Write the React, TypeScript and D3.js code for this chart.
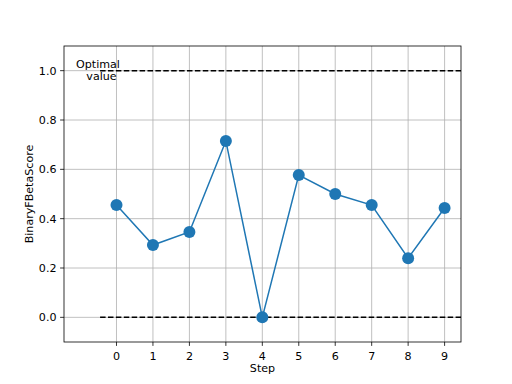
import React from "react";
import * as d3 from "d3";

const steps = [0, 1, 2, 3, 4, 5, 6, 7, 8, 9];
const scores = [0.455, 0.293, 0.346, 0.715, 0.0, 0.577, 0.5, 0.455, 0.24, 0.443];
const yTicks = [0.0, 0.2, 0.4, 0.6, 0.8, 1.0];
const refLines = [0.0, 1.0];
const annotation = ["Optimal", "value"];

export default function App() {
  const W = 512, H = 384;
  const L = 64, R = 461, T = 46, B = 342;
  const x = d3.scaleLinear().domain([-1.44, 9.45]).range([L, R]);
  const y = d3.scaleLinear().domain([-0.1, 1.1]).range([B, T]);
  const line = d3.line<number>().x((_, i) => x(steps[i])).y((d) => y(d));
  const font = "DejaVu Sans, sans-serif";
  const fs = 11.1;
  return (
    <svg width={W} height={H} style={{ position: "absolute", left: 0, top: 0 }} fontFamily={font}>
      <rect width={W} height={H} fill="#fff" />
      {/* grid */}
      {steps.map((s) => (
        <line key={"gx" + s} x1={x(s)} x2={x(s)} y1={T} y2={B} stroke="#b0b0b0" strokeWidth={0.8} />
      ))}
      {yTicks.map((t) => (
        <line key={"gy" + t} x1={L} x2={R} y1={y(t)} y2={y(t)} stroke="#b0b0b0" strokeWidth={0.8} />
      ))}
      {/* reference lines */}
      {refLines.map((r) => (
        <line key={"r" + r} x1={x(-0.45)} x2={x(9.45)} y1={y(r)} y2={y(r)} stroke="#000" strokeWidth={1.5} strokeDasharray="5.5,2.4" />
      ))}
      {/* series */}
      <path d={line(scores) || ""} fill="none" stroke="#1f77b4" strokeWidth={1.5} />
      {scores.map((v, i) => (
        <circle key={"p" + i} cx={x(steps[i])} cy={y(v)} r={6} fill="#1f77b4" />
      ))}
      {/* annotation */}
      <text x={98} y={68} fontSize={fs} textAnchor="middle" fill="#000">{annotation[0]}</text>
      <text x={101.5} y={80} fontSize={fs} textAnchor="middle" fill="#000">{annotation[1]}</text>
      {/* frame */}
      <rect x={L} y={T} width={R - L} height={B - T} fill="none" stroke="#000" strokeWidth={0.8} />
      {/* x ticks */}
      {steps.map((s) => (
        <g key={"xt" + s}>
          <line x1={x(s)} x2={x(s)} y1={B} y2={B + 3.9} stroke="#000" strokeWidth={0.8} />
          <text x={x(s)} y={B + 18} fontSize={fs} textAnchor="middle" fill="#000">{s}</text>
        </g>
      ))}
      {/* y ticks */}
      {yTicks.map((t) => (
        <g key={"yt" + t}>
          <line x1={L - 3.9} x2={L} y1={y(t)} y2={y(t)} stroke="#000" strokeWidth={0.8} />
          <text x={L - 7.5} y={y(t) + 4} fontSize={fs} textAnchor="end" fill="#000">{t.toFixed(1)}</text>
        </g>
      ))}
      <text x={(L + R) / 2} y={371.5} fontSize={fs} textAnchor="middle" fill="#000">Step</text>
      <text transform={`translate(32.5,${(T + B) / 2}) rotate(-90)`} fontSize={fs} textAnchor="middle" fill="#000">BinaryFBetaScore</text>
    </svg>
  );
}
